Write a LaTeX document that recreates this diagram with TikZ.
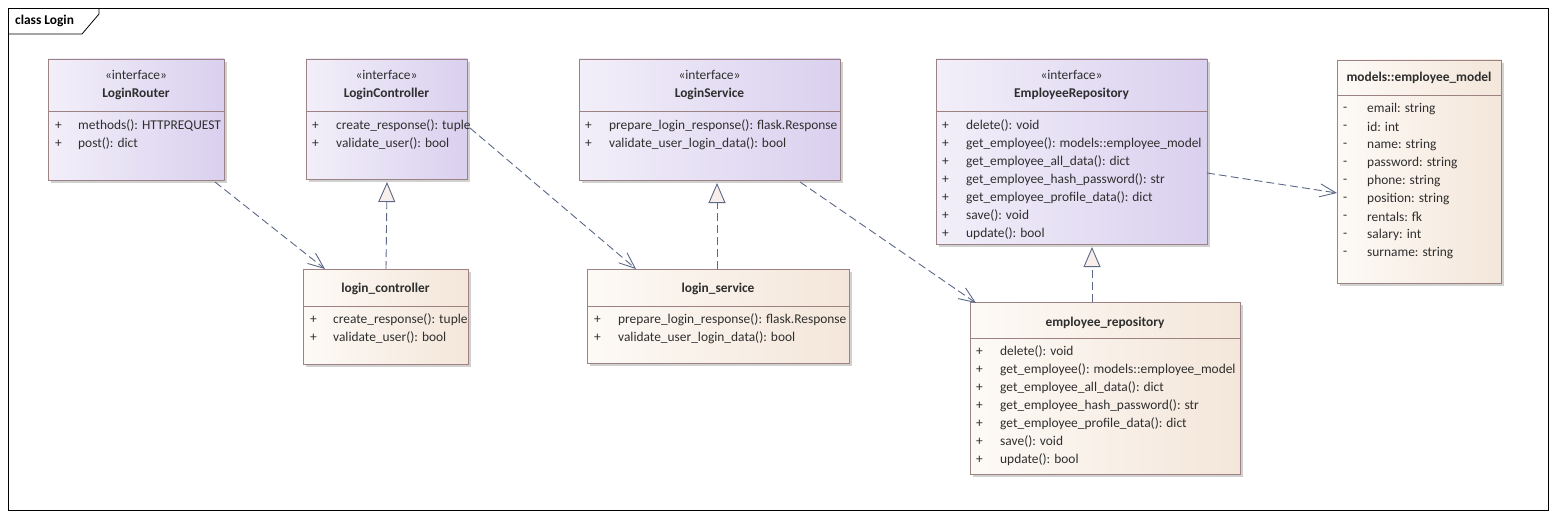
\documentclass[tikz,border=0pt]{standalone}
\usepackage{fontspec}
\setmainfont{Carlito}
\usetikzlibrary{arrows.meta,shadows,calc}
\definecolor{ileft}{HTML}{F2EFF9}
\definecolor{iright}{HTML}{DAD0EF}
\definecolor{cleft}{HTML}{FDFAF6}
\definecolor{cright}{HTML}{F4E6DA}
\definecolor{bordc}{HTML}{9C8282}
\definecolor{arrc}{HTML}{5C6888}
\definecolor{textc}{HTML}{2E2E2E}
\definecolor{trif}{HTML}{F8EEEA}
\tikzset{
  boxbase/.style={draw=bordc, line width=0.9pt, anchor=north west, inner sep=0pt, outer sep=0pt,
    shading angle=90,
    drop shadow={shadow xshift=3pt, shadow yshift=-3pt, fill=black!18, opacity=1}},
  ibox/.style={boxbase, left color=ileft, right color=iright},
  cbox/.style={boxbase, left color=cleft, right color=cright},
  divl/.style={draw=bordc, line width=0.9pt},
  mem/.style={anchor=west, inner sep=0pt, text=textc, font=\fontsize{13.4}{15}\selectfont},
  ster/.style={anchor=center, inner sep=0pt, text=textc, font=\fontsize{13.4}{15}\selectfont},
  cname/.style={anchor=center, inner sep=0pt, text=textc, font=\fontsize{13.4}{15}\selectfont\bfseries},
  dep/.style={draw=arrc, line width=0.9pt, dash pattern=on 8pt off 4pt, -{Straight Barb[length=16pt,width=13pt,line width=0.9pt]}},
  real/.style={draw=arrc, line width=0.9pt, dash pattern=on 8pt off 4pt, -{Triangle[open, length=20pt, width=17pt, line width=0.9pt, fill=trif]}}
}
\begin{document}
\begin{tikzpicture}[x=1pt,y=-1pt]
\useasboundingbox (0,0) rectangle (1556,519);
% frame
\draw[black, line width=0.8pt] (8.5,8.5) rectangle (1548,510);
\draw[black, line width=0.8pt] (8.5,34) -- (82,34) -- (99,14) -- (99,8.5);
\node[anchor=west, inner sep=0pt, font=\fontsize{13.4}{15}\selectfont\bfseries] (title) at (15,21) {class Login};

% boxes
\node[ibox, minimum width=176pt, minimum height=121pt] (lr) at (48,59) {};
\node[ibox, minimum width=161pt, minimum height=120pt] (lc) at (306,59) {};
\node[ibox, minimum width=261pt, minimum height=121pt] (ls) at (579,59) {};
\node[ibox, minimum width=271pt, minimum height=185pt] (er) at (936,59) {};
\node[cbox, minimum width=164pt, minimum height=223pt] (em) at (1337,60) {};
\node[cbox, minimum width=165pt, minimum height=95pt] (lcc) at (303,269) {};
\node[cbox, minimum width=262pt, minimum height=94pt] (lss) at (587,269) {};
\node[cbox, minimum width=270pt, minimum height=172pt] (err) at (970,302) {};

% dividers
\draw[divl] (48,111) -- (224,111);
\draw[divl] (306,111) -- (467,111);
\draw[divl] (579,111) -- (840,111);
\draw[divl] (936,111) -- (1207,111);
\draw[divl] (1337,95) -- (1501,95);
\draw[divl] (303,306) -- (468,306);
\draw[divl] (587,306) -- (849,306);
\draw[divl] (970,338) -- (1240,338);

% headers
\node[ster] (lr-s) at (136,75) {«interface»};
\node[cname] (lr-n) at (136,94) {LoginRouter};
\node[ster] (lc-s) at (386.5,75) {«interface»};
\node[cname] (lc-n) at (386.5,94) {LoginController};
\node[ster] (ls-s) at (709.5,75) {«interface»};
\node[cname] (ls-n) at (709.5,94) {LoginService};
\node[ster] (er-s) at (1071.5,75) {«interface»};
\node[cname] (er-n) at (1071.5,94) {EmployeeRepository};
\node[cname] (em-n) at (1419,78) {models::employee\_model};
\node[cname] (lcc-n) at (385.5,289) {login\_controller};
\node[cname] (lss-n) at (718,289) {login\_service};
\node[cname] (err-n) at (1105,323) {employee\_repository};

% members
\foreach \t [count=\i] in {methods(): HTTPREQUEST, post(): dict} {
  \node[mem] (lr-p\i) at (55,{126+18*(\i-1)}) {+};
  \node[mem] (lr-m\i) at (78,{126+18*(\i-1)}) {\t};
}
\foreach \t [count=\i] in {create\_response(): tuple, validate\_user(): bool} {
  \node[mem] (lc-p\i) at (312,{126+18*(\i-1)}) {+};
  \node[mem] (lc-m\i) at (336,{126+18*(\i-1)}) {\t};
}
\foreach \t [count=\i] in {prepare\_login\_response(): flask.Response, validate\_user\_login\_data(): bool} {
  \node[mem] (ls-p\i) at (585,{126+18*(\i-1)}) {+};
  \node[mem] (ls-m\i) at (609,{126+18*(\i-1)}) {\t};
}
\foreach \t [count=\i] in {delete(): void, get\_employee(): models::employee\_model, get\_employee\_all\_data(): dict, get\_employee\_hash\_password(): str, get\_employee\_profile\_data(): dict, save(): void, update(): bool} {
  \node[mem] (er-p\i) at (942,{126+18*(\i-1)}) {+};
  \node[mem] (er-m\i) at (966,{126+18*(\i-1)}) {\t};
}
\foreach \t [count=\i] in {email: string, id: int, name: string, password: string, phone: string, position: string, rentals: fk, salary: int, surname: string} {
  \node[mem] (em-p\i) at (1343,{109+18*(\i-1)}) {-};
  \node[mem] (em-m\i) at (1367,{109+18*(\i-1)}) {\t};
}
\foreach \t [count=\i] in {create\_response(): tuple, validate\_user(): bool} {
  \node[mem] (lcc-p\i) at (310,{320+18*(\i-1)}) {+};
  \node[mem] (lcc-m\i) at (333,{320+18*(\i-1)}) {\t};
}
\foreach \t [count=\i] in {prepare\_login\_response(): flask.Response, validate\_user\_login\_data(): bool} {
  \node[mem] (lss-p\i) at (594,{320+18*(\i-1)}) {+};
  \node[mem] (lss-m\i) at (618,{320+18*(\i-1)}) {\t};
}
\foreach \t [count=\i] in {delete(): void, get\_employee(): models::employee\_model, get\_employee\_all\_data(): dict, get\_employee\_hash\_password(): str, get\_employee\_profile\_data(): dict, save(): void, update(): bool} {
  \node[mem] (err-p\i) at (976,{352+18*(\i-1)}) {+};
  \node[mem] (err-m\i) at (1000,{352+18*(\i-1)}) {\t};
}

% connectors
\draw[dep] ([xshift=-9pt,yshift=-2pt]lr.south east) -- ([xshift=22pt]lcc.north west);
\draw[dep] ([yshift=-9pt,xshift=3pt]lc.east) -- ([xshift=49pt]lss.north west);
\draw[dep] ([xshift=221pt,yshift=-2pt]ls.south west) -- ([xshift=6pt,yshift=-1pt]err.north west);
\draw[dep] ([yshift=-21.5pt]er.east) -- ([yshift=-21.5pt]em.west);
\draw[real] ([xshift=83pt]lcc.north west) -- ([xshift=81pt,yshift=-3pt]lc.south west);
\draw[real] ([xshift=130pt]lss.north west) -- ([xshift=138pt,yshift=-3pt]ls.south west);
\draw[real] ([xshift=122pt]err.north west) -- ([xshift=156pt,yshift=-3pt]er.south west);
\end{tikzpicture}
\end{document}
